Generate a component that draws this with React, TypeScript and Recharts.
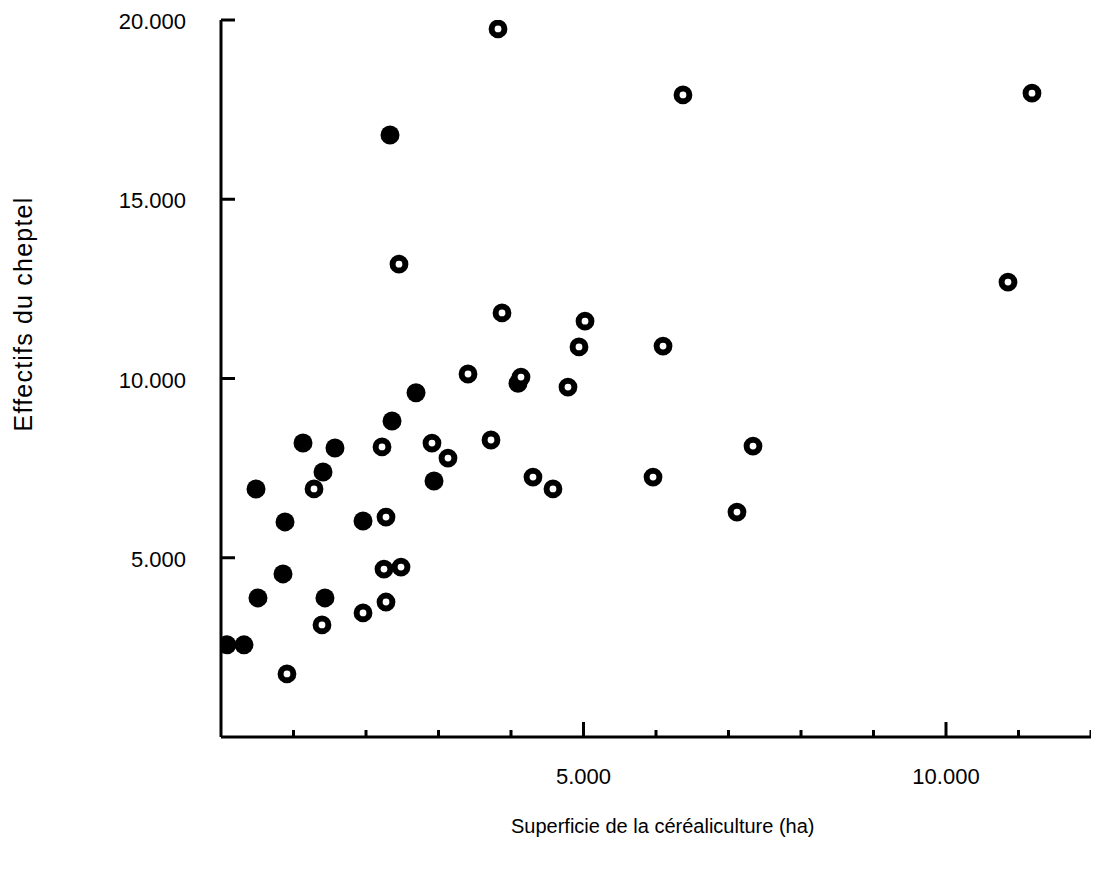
import React from 'react';
import { ScatterChart, Scatter, XAxis, YAxis, Label } from 'recharts';

// Exploitations with filled markers
const filledX = [2331, 2690, 2359, 1131, 1572, 1407, 2938, 483, 883, 1959, 855, 510, 1434, 83, 317, 4097];
const filledY = [16790, 9600, 8815, 8200, 8060, 7390, 7140, 6920, 6000, 6025, 4550, 3880, 3880, 2570, 2570, 9870];

// Exploitations with open (ring) markers
const ringX = [3821, 6372, 11186, 2455, 10855, 3876, 5021, 4938, 6097, 3407, 4138, 4786, 2221, 2910, 3131, 3724, 7338, 1283, 4303, 4579, 5959, 7117, 2276, 2248, 2483, 2276, 1959, 1393, 910];
const ringY = [19750, 17910, 17960, 13190, 12690, 11830, 11600, 10880, 10905, 10125, 10040, 9760, 8090, 8200, 7780, 8285, 8115, 6920, 7250, 6920, 7250, 6275, 6135, 4685, 4740, 3765, 3460, 3125, 1760];

const xTicks = [0, 1000, 2000, 3000, 4000, 5000, 6000, 7000, 8000, 9000, 10000, 11000, 12000];
const xLabelTicks = [5000, 10000];
const yTicks = [0, 5000, 10000, 15000, 20000];
const yLabelTicks = [5000, 10000, 15000, 20000];

const xTitle = 'Superficie de la céréaliculture (ha)';
const yTitle = 'Effectifs du cheptel';

const FONT = '"Liberation Sans", Arial, Helvetica, sans-serif';

const filledData = filledX.map((x, i) => ({ x, y: filledY[i] }));
const ringData = ringX.map((x, i) => ({ x, y: ringY[i] }));

const fmt = (v: number) => `${Math.floor(v / 1000)}.${String(v % 1000).padStart(3, '0')}`;

const XTick = (props: any) => {
  const { x, y, payload } = props;
  const v = payload.value as number;
  const major = v % 5000 === 0;
  const len = major ? 15 : 7;
  return (
    <g>
      {v > 0 && <line x1={x} x2={x} y1={y} y2={y - len} stroke="#000" strokeWidth={3} />}
      {xLabelTicks.includes(v) && (
        <text x={x} y={y + 47} textAnchor="middle" fontSize={22} fill="#000" style={{ fontFamily: FONT }}>
          {fmt(v)}
        </text>
      )}
    </g>
  );
};

const YTick = (props: any) => {
  const { x, y, payload } = props;
  const v = payload.value as number;
  return (
    <g>
      {v > 0 && <line x1={x} x2={x + 14} y1={y} y2={y} stroke="#000" strokeWidth={3} />}
      {yLabelTicks.includes(v) && (
        <text x={x - 35} y={y + 9} textAnchor="end" fontSize={22} fill="#000" style={{ fontFamily: FONT }}>
          {fmt(v)}
        </text>
      )}
    </g>
  );
};

const FilledDot = (p: any) => <circle cx={p.cx} cy={p.cy} r={9.5} fill="#000" />;
const RingDot = (p: any) => (
  <circle cx={p.cx} cy={p.cy} r={6.4} fill="#fff" stroke="#000" strokeWidth={6} />
);

export default function App() {
  return (
    <div style={{ background: '#fff' }}>
      <ScatterChart width={1091} height={858} margin={{ top: 12, right: 8, bottom: 0, left: 0 }}>
        <XAxis
          type="number"
          dataKey="x"
          domain={[0, 12000]}
          ticks={xTicks}
          interval={0}
          height={129}
          tickSize={0}
          tickMargin={0}
          tickLine={false}
          axisLine={{ stroke: '#000', strokeWidth: 3 }}
          tick={<XTick />}
          allowDataOverflow
        >
          <Label
            content={() => (
              <text x={503} y={825} textAnchor="start" fontSize={20} fill="#000" style={{ fontFamily: FONT }}>
                {xTitle}
              </text>
            )}
          />
        </XAxis>
        <YAxis
          type="number"
          dataKey="y"
          domain={[0, 20000]}
          ticks={yTicks}
          interval={0}
          width={213}
          tickSize={0}
          tickMargin={0}
          tickLine={false}
          axisLine={{ stroke: '#000', strokeWidth: 3 }}
          tick={<YTick />}
          allowDataOverflow
        >
          <Label
            content={() => (
              <text
                x={24}
                y={306}
                transform="rotate(-90 24 306)"
                textAnchor="middle"
                fontSize={25}
                letterSpacing={1.2}
                fill="#000"
                style={{ fontFamily: FONT }}
              >
                {yTitle}
              </text>
            )}
          />
        </YAxis>
        <Scatter data={filledData} shape={<FilledDot />} isAnimationActive={false} />
        <Scatter data={ringData} shape={<RingDot />} isAnimationActive={false} />
      </ScatterChart>
    </div>
  );
}
